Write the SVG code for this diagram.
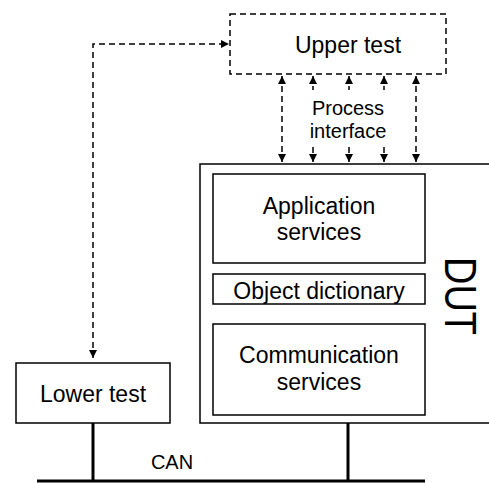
<svg xmlns="http://www.w3.org/2000/svg" width="489" height="483" viewBox="0 0 489 483">
<defs>
<marker id="ah" viewBox="0 0 10 10" refX="10" refY="5" markerWidth="8" markerHeight="8" markerUnits="userSpaceOnUse" orient="auto-start-reverse">
<path d="M0,0 L10,5 L0,10 z" fill="#000"/>
</marker>
<style>
.box{fill:#fff;stroke:#000;stroke-width:1.5}
.dbox{fill:#fff;stroke:#000;stroke-width:1.5;stroke-dasharray:6,4}
.dl{fill:none;stroke:#000;stroke-width:1.5;stroke-dasharray:6,4}
.bus{fill:none;stroke:#000;stroke-width:3}
.t{font-family:"Liberation Sans",Arial,sans-serif;font-size:23px;fill:#000;text-anchor:middle}
.s{font-size:20px}
</style>
</defs>
<rect width="489" height="483" fill="#fff"/>
<g id="connectors">
<path class="dl" d="M93,358 L93,44 L229,44" marker-start="url(#ah)" marker-end="url(#ah)"/>
<path class="dl" d="M282,76 L282,162" marker-start="url(#ah)" marker-end="url(#ah)"/>
<path class="dl" d="M416,76 L416,162" marker-start="url(#ah)" marker-end="url(#ah)"/>
<path class="dl" d="M313,76 L313,90" marker-start="url(#ah)"/>
<path class="dl" d="M313,147 L313,162" marker-end="url(#ah)"/>
<path class="dl" d="M349,76 L349,90" marker-start="url(#ah)"/>
<path class="dl" d="M349,147 L349,162" marker-end="url(#ah)"/>
<path class="dl" d="M384,76 L384,90" marker-start="url(#ah)"/>
<path class="dl" d="M384,147 L384,162" marker-end="url(#ah)"/>
<path class="bus" d="M37,481 L425,481 M93,423 L93,481 M348,423 L348,481"/>
</g>
<g id="upper-test">
<rect class="dbox" x="230" y="14" width="216" height="60"/>
<text class="t" x="348" y="53">Upper test</text>
</g>
<text class="t s" x="348" y="115">Process</text>
<text class="t s" x="348" y="138">interface</text>
<g id="dut">
<path class="box" d="M489,164 L200,164 L200,423 L489,423"/>
<text class="t" transform="translate(445,296) rotate(90) scale(1,1.18)" x="0" y="0" style="font-size:38px">DUT</text>
</g>
<g id="application-services">
<rect class="box" x="213" y="174" width="212" height="89"/>
<text class="t" x="319" y="214">Application</text>
<text class="t" x="319" y="240">services</text>
</g>
<g id="object-dictionary">
<rect class="box" x="213" y="274" width="212" height="30"/>
<text class="t" x="319" y="299">Object dictionary</text>
</g>
<g id="communication-services">
<rect class="box" x="213" y="324" width="212" height="91"/>
<text class="t" x="319" y="363">Communication</text>
<text class="t" x="319" y="390">services</text>
</g>
<g id="lower-test">
<rect class="box" x="16" y="363" width="154" height="60"/>
<text class="t" x="93" y="402">Lower test</text>
</g>
<text class="t s" x="172" y="469">CAN</text>
</svg>
